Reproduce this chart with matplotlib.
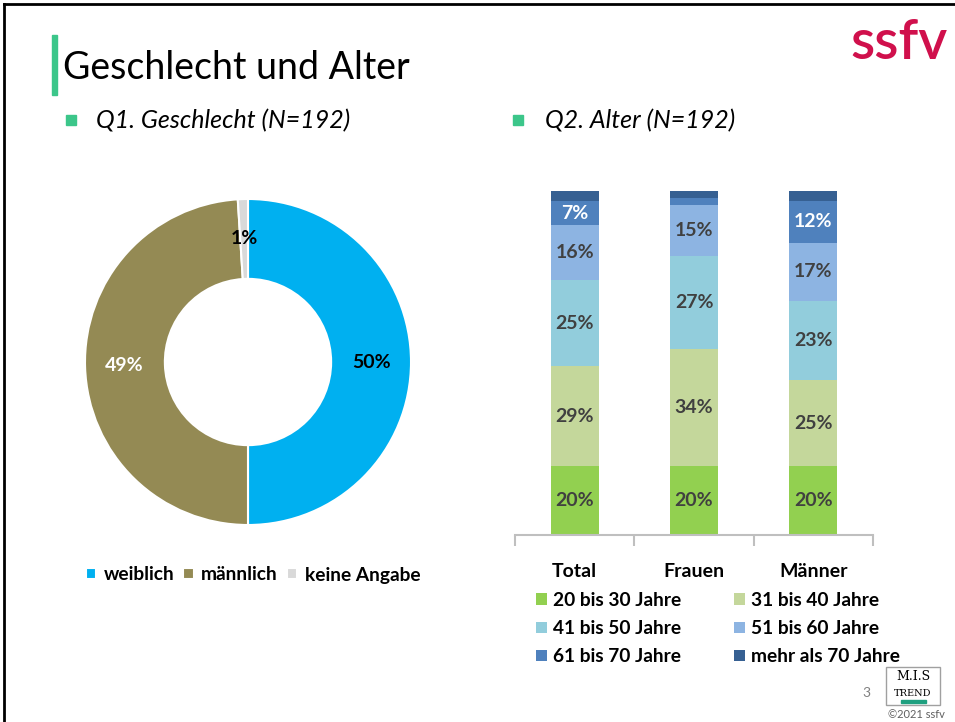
import matplotlib.pyplot as plt
import numpy as np
from matplotlib.patches import Rectangle
from matplotlib.lines import Line2D

# Q1 data
gender_labels = ["weiblich", "männlich", "keine Angabe"]
gender_values = [50, 49, 1]
gender_colors = ["#00B0F0", "#948A54", "#D9D9D9"]

# Q2 data
groups = ["Total", "Frauen", "Männer"]
age_labels = ["20 bis 30 Jahre", "31 bis 40 Jahre", "41 bis 50 Jahre",
              "51 bis 60 Jahre", "61 bis 70 Jahre", "mehr als 70 Jahre"]
age_total = [20, 29, 25, 16, 7, 3]
age_frauen = [20, 34, 27, 15, 2, 2]
age_maenner = [20, 25, 23, 17, 12, 3]
age_colors = ["#92D050", "#C4D79B", "#92CDDC", "#8DB4E2", "#4F81BD", "#366092"]

W, H = 955, 722
plt.rcParams['font.family'] = ['Lato', 'DejaVu Sans']
fig = plt.figure(figsize=(9.55, 7.22), dpi=100)

def fx(px):
    return px / W

def fy(py):
    return 1 - py / H

# slide frame (top and left edge)
fig.add_artist(Line2D([fx(4), 1], [fy(4), fy(4)], color="black", lw=2))
fig.add_artist(Line2D([fx(4), fx(4)], [0, fy(4)], color="black", lw=2))

# title with green bar
fig.add_artist(Rectangle((fx(52), fy(95)), fx(5), 60 / H, color="#3CC68A"))
fig.text(fx(63), fy(68), "Geschlecht und Alter", fontsize=27, va="center", ha="left")
fig.text(fx(850), fy(43), "ssfv", fontsize=40, color="#D0104C", fontweight="semibold",
         va="center", ha="left")

# bullets
for bx, tx, txt in [(66, 96, "Q1. Geschlecht (N=192)"), (513, 545, "Q2. Alter (N=192)")]:
    fig.add_artist(Rectangle((fx(bx), fy(125)), fx(10), 10 / H, color="#3CC68A"))
    fig.text(fx(tx), fy(121), txt, fontsize=18, style="italic", va="center", ha="left")

# ---- donut ----
r = 163
ax1 = fig.add_axes([fx(248 - r), fy(362 + r), 2 * r / W, 2 * r / H])
wedges, texts, autotexts = ax1.pie(
    gender_values, colors=gender_colors, startangle=90, counterclock=False,
    autopct="%d%%", pctdistance=0.76,
    wedgeprops=dict(width=0.49, edgecolor="white", linewidth=1.5),
    textprops=dict(fontsize=14, fontweight="bold"))
for t, c in zip(autotexts, ["black", "white", "black"]):
    t.set_color(c)
ax1.set_xlim(-1, 1)
ax1.set_ylim(-1, 1)
ax1.set_aspect("auto")
ax1.axis("off")

fig.legend(wedges, gender_labels, loc="center", bbox_to_anchor=(fx(253), fy(575)),
           ncol=3, frameon=False, prop=dict(weight="bold", size=13.8),
           handlelength=0.55, handleheight=0.55, handletextpad=0.4, columnspacing=0.45)

# ---- stacked bars ----
ax2 = fig.add_axes([fx(515), fy(535), (873 - 515) / W, 344 / H])
x = np.arange(len(groups))
data = np.array([age_total, age_frauen, age_maenner])
bottom = np.zeros(len(groups))
bars = []
for i in range(len(age_labels)):
    vals = data[:, i]
    b = ax2.bar(x, vals, 0.40, bottom=bottom, color=age_colors[i], label=age_labels[i])
    bars.append(b)
    for xi, v, bt in zip(x, vals, bottom):
        if v >= 5:
            ax2.text(xi, bt + v / 2, f"{v}%", ha="center", va="center", fontsize=14,
                     fontweight="bold", color="white" if i == 4 else "#404040")
    bottom += vals

ax2.set_xlim(-0.5, 2.5)
ax2.set_ylim(0, 100)
for s in ["top", "right", "left"]:
    ax2.spines[s].set_visible(False)
ax2.spines["bottom"].set_color("#BFBFBF")
ax2.spines["bottom"].set_linewidth(1.5)
ax2.set_yticks([])
ax2.set_xticks(x)
ax2.set_xticklabels(groups, fontsize=14, fontweight="bold")
ax2.tick_params(axis="x", which="major", length=0, pad=20)
ax2.set_xticks([-0.5, 0.5, 1.5, 2.5], minor=True)
ax2.tick_params(axis="x", which="minor", length=8, width=1.5, color="#BFBFBF", direction="out")

order = [0, 2, 4, 1, 3, 5]
fig.legend([bars[i] for i in order], [age_labels[i] for i in order],
           loc="upper left", bbox_to_anchor=(fx(536), fy(592)), ncol=2, frameon=False,
           prop=dict(weight="bold", size=13.8), borderpad=0, borderaxespad=0,
           handlelength=0.55, handleheight=0.55, handletextpad=0.35,
           columnspacing=2.75, labelspacing=0.58)

# footer
fig.text(fx(866), fy(693), "3", fontsize=10, color="#808080", ha="center", va="center")
fig.add_artist(Rectangle((fx(886), fy(705)), 54 / W, 38 / H, fill=False,
                         edgecolor="#A0A0A0", lw=1))
fig.text(fx(913), fy(677), "M.I.S", fontsize=9, family="DejaVu Serif", ha="center", va="center")
fig.text(fx(913), fy(694), "TREND", fontsize=7, family="DejaVu Serif", ha="center", va="center")
fig.add_artist(Rectangle((fx(901), fy(703)), 25 / W, 3 / H, color="#1FA080"))
fig.text(fx(945), fy(714), "©2021 ssfv", fontsize=8, color="#606060", ha="right", va="center")

fig.savefig("out.png", dpi=100)
